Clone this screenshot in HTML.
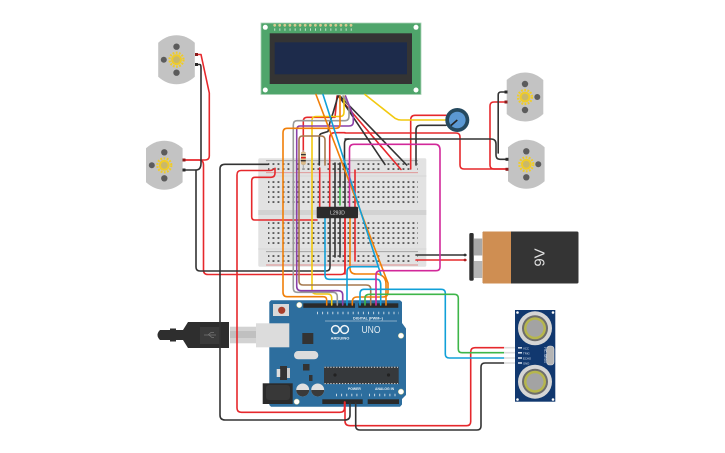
<!DOCTYPE html>
<html><head><meta charset="utf-8"><style>
html,body{margin:0;padding:0;background:#fff;width:725px;height:453px;overflow:hidden}
svg{display:block}
text{font-family:"Liberation Sans",sans-serif}
.w path{fill:none;stroke-width:1.6;stroke-linecap:round;stroke-linejoin:round}
</style></head><body>
<svg width="725" height="453" viewBox="0 0 725 453" xmlns="http://www.w3.org/2000/svg">
<defs>
<pattern id="h" x="266.4" y="0" width="5" height="5" patternUnits="userSpaceOnUse"><rect x="1.1" y="1.1" width="1.9" height="1.9" fill="#5a5a5a"/></pattern>
<pattern id="r" x="266.4" y="0" width="30" height="5" patternUnits="userSpaceOnUse"><rect x="1.1" y="1.1" width="1.9" height="1.9" fill="#5a5a5a"/><rect x="6.1" y="1.1" width="1.9" height="1.9" fill="#5a5a5a"/><rect x="11.1" y="1.1" width="1.9" height="1.9" fill="#5a5a5a"/><rect x="16.1" y="1.1" width="1.9" height="1.9" fill="#5a5a5a"/><rect x="21.1" y="1.1" width="1.9" height="1.9" fill="#5a5a5a"/></pattern>
<g id="motor"><path d="M-18.3 -17 Q-10 -24.5 0 -24.5 Q10 -24.5 18.3 -17 V17 Q10 24.5 0 24.5 Q-10 24.5 -18.3 17Z" fill="#c3c3c3"/><circle cx="0" cy="-13" r="3.2" fill="#5c5c5c"/><circle cx="0" cy="13" r="3.2" fill="#5c5c5c"/><circle cx="0" cy="0" r="5.4" fill="#f0cc28"/><circle cx="0" cy="0" r="7" fill="none" stroke="#f0cc28" stroke-width="2.2" stroke-dasharray="1.8 1.4"/><circle cx="0" cy="0" r="3.4" fill="#c9b86a"/></g>
</defs>

<!-- LCD -->
<rect x="261" y="23" width="160" height="71.5" fill="#4fa56b" stroke="#a9d3b6" stroke-width=".8"/>
<rect x="269.7" y="33.3" width="142.3" height="50.7" fill="#343434"/>
<rect x="274.7" y="42.3" width="132.3" height="32" fill="#1d2b4b"/>
<circle cx="265.3" cy="27.3" r="2.5" fill="#fff"/><circle cx="416" cy="27.3" r="2.5" fill="#fff"/><circle cx="265.3" cy="90" r="2.5" fill="#fff"/><circle cx="416" cy="90" r="2.5" fill="#fff"/>
<g fill="#d8c98f"><circle cx="274.7" cy="25.3" r="1.4"/><circle cx="279.7" cy="25.3" r="1.4"/><circle cx="284.8" cy="25.3" r="1.4"/><circle cx="289.9" cy="25.3" r="1.4"/><circle cx="295" cy="25.3" r="1.4"/><circle cx="300.1" cy="25.3" r="1.4"/><circle cx="305.2" cy="25.3" r="1.4"/><circle cx="310.3" cy="25.3" r="1.4"/><circle cx="315.4" cy="25.3" r="1.4"/><circle cx="320.5" cy="25.3" r="1.4"/><circle cx="325.6" cy="25.3" r="1.4"/><circle cx="330.7" cy="25.3" r="1.4"/><circle cx="335.8" cy="25.3" r="1.4"/><circle cx="340.9" cy="25.3" r="1.4"/><circle cx="346" cy="25.3" r="1.4"/><circle cx="351" cy="25.3" r="1.4"/></g>
<g stroke="#cfe6d6" stroke-width="2.4" stroke-dasharray=".9 4.2"><path d="M274.3 29.6H352"/></g>

<!-- Motors -->
<use href="#motor" x="176.5" y="59.7"/><circle cx="163.8" cy="59.7" r="3" fill="#5c5c5c"/>
<use href="#motor" x="164.3" y="165.3"/><circle cx="151.8" cy="165.3" r="3" fill="#5c5c5c"/>
<use href="#motor" x="525" y="97"/><circle cx="537.3" cy="97" r="3" fill="#5c5c5c"/>
<use href="#motor" x="526.3" y="164.3"/><circle cx="538.3" cy="164.3" r="3" fill="#5c5c5c"/>

<!-- Breadboard -->
<rect x="258.3" y="158.3" width="168" height="108.4" rx="1.5" fill="#e2e2e2"/>
<rect x="258.3" y="175" width="168" height="2" fill="#dcdcdc"/>
<rect x="258.3" y="248" width="168" height="2" fill="#dcdcdc"/>
<rect x="258.3" y="210" width="168" height="5" fill="#d2d2d2"/>
<path d="M266 160.7H418M266 251.7H418" stroke="#9a9a9a" stroke-width=".9"/>
<path d="M266 172.7H418M266 265H418" stroke="#df8d8d" stroke-width=".9"/>
<rect x="268" y="180" width="150" height="25" fill="url(#h)"/>
<rect x="268" y="220" width="150" height="25" fill="url(#h)" transform="translate(0 1)"/>
<rect x="268" y="160" width="150" height="10" fill="url(#r)" transform="translate(0 2)"/>
<rect x="268" y="250" width="150" height="10" fill="url(#r)" transform="translate(0 4)"/>

<!-- Arduino -->
<path d="M271 300.3H400L402 302V323L406 328.5V395L402 399V404.5L400 406.7H271L269.3 405V302Z" fill="#2d6e9e"/>
<rect x="303.3" y="303.3" width="51.7" height="4.5" fill="#2a2a2a"/>
<rect x="358.3" y="303.3" width="40" height="4.5" fill="#2a2a2a"/>
<rect x="322.3" y="399.3" width="40.4" height="4.7" fill="#2a2a2a"/>
<rect x="367.7" y="399.3" width="31.3" height="4.7" fill="#2a2a2a"/>
<rect x="273" y="304" width="16" height="12" fill="#d9d9d9"/><circle cx="281.7" cy="310.3" r="3.6" fill="#a83f2c"/>
<rect x="256" y="323.3" width="33.3" height="24" fill="#dcdcdc"/>
<rect x="230" y="326.7" width="26" height="16.6" fill="#d2d2d2"/><rect x="230" y="331" width="26" height="7" fill="#c0c0c0"/>
<path d="M183 330L188 322H229V348H188L183 340Z" fill="#2e2e2e"/>
<rect x="200" y="327" width="20" height="17" fill="#3b3b3b"/>
<path d="M160 330H170V328.5H176V330H183V340H176V341.5H170V340H160Q157.5 337.5 157.5 335Q157.5 332.5 160 330Z" fill="#2e2e2e"/>
<path d="M204 335H216M208 335L211 332.5H214M209 335L212 337.5H214" stroke="#777" stroke-width=".7" fill="none"/>
<rect x="302.3" y="333" width="11" height="11" fill="#333"/>
<rect x="294" y="351" width="24.3" height="8.3" rx="4.1" fill="#dcdcdc"/>
<rect x="303" y="364" width="6.5" height="6.5" fill="#333"/>
<rect x="280" y="366" width="7" height="14" fill="#333"/><rect x="276.7" y="369" width="3.5" height="8" fill="#ddd"/><rect x="287" y="368" width="3" height="10" fill="#ccc"/>
<rect x="309" y="375" width="3.5" height="6" fill="#333"/><rect x="262.7" y="383.3" width="30" height="20.7" fill="#2b2b2b"/><rect x="266" y="385" width="24" height="15" rx="3" fill="#383838"/>
<circle cx="302.7" cy="390" r="6.5" fill="#e0e0e0"/><path d="M296.2 390a6.5 6.5 0 0 0 13 0Z" fill="#3a3a3a"/>
<circle cx="317.7" cy="390" r="6.5" fill="#e0e0e0"/><path d="M311.2 390a6.5 6.5 0 0 0 13 0Z" fill="#3a3a3a"/>
<rect x="324" y="366.7" width="74.7" height="17.3" fill="#36393c"/>
<path d="M324.5 367.2H398M324.5 383.6H398" stroke="#ddd" stroke-width="1" stroke-dasharray="1.3 1.6"/>
<circle cx="335" cy="375" r="1.6" fill="#222"/><circle cx="388.5" cy="375" r="1.6" fill="#222"/>
<circle cx="299.3" cy="305" r="2.7" fill="#fff" stroke="#d8d48c" stroke-width=".5"/><circle cx="401" cy="335.7" r="2.7" fill="#fff" stroke="#d8d48c" stroke-width=".5"/><circle cx="401" cy="391.7" r="2.7" fill="#fff" stroke="#d8d48c" stroke-width=".5"/><circle cx="296.7" cy="401.7" r="2.7" fill="#fff" stroke="#d8d48c" stroke-width=".5"/>
<g fill="none" stroke="#f0f4f7" stroke-width="1.5"><circle cx="335.5" cy="329.5" r="3.9"/><circle cx="344.5" cy="329.5" r="3.9"/></g>
<text x="340" y="339.5" font-size="4" font-weight="bold" fill="#eef3f6" text-anchor="middle">ARDUINO</text>
<text x="361.5" y="333" font-size="10" fill="#dfe9f0" textLength="19" lengthAdjust="spacingAndGlyphs">UNO</text>
<text x="353" y="319.3" font-size="3.8" font-weight="bold" fill="#e6eef3">DIGITAL (PWM~)</text>
<path d="M325 321H397" stroke="#dfe9f0" stroke-width=".5"/>
<text x="348" y="390" font-size="3.4" font-weight="bold" fill="#e6eef3">POWER</text>
<text x="375" y="390" font-size="3.4" font-weight="bold" fill="#e6eef3">ANALOG IN</text>
<g stroke="#c7d8e4" stroke-width="2.4" stroke-dasharray="1 4.1"><path d="M317 313H399M336 395H362M369 395H399"/></g>

<!-- Wires -->
<g class="w">
<g stroke="#e6282c">
<path d="M197 54.5H201L209.3 93V156Q209.3 160 205 160H184"/>
<path d="M184 160H199Q203.5 160 203.5 165V270Q203.5 274.5 208 274.5H341Q345 274.5 345 270.5V218"/>
<path d="M505.7 102H494Q490 102 490 106V165Q490 169 494 169H506.5"/>
<path d="M345 133H456Q460 133 460 137V165Q460 169 464 169H506.5"/>
<path d="M329.7 170V138Q329.7 132.7 335 132.7H345"/>
<path d="M319.7 168V207"/><path d="M329.7 168V207"/><path d="M355 170V207"/><path d="M345 218V274"/><path d="M355 218V261"/>
<path d="M317 220H255Q251.7 220 251.7 216.7V181Q251.7 177.3 255 177.3H271Q275 177.3 275 173V168.3"/>
<path d="M273 169.5Q272 170.5 270 170.5H241Q237 170.5 237 175V408Q237 412.3 241.5 412.3H340Q344.5 412.3 344.5 408V402"/>
<path d="M345 402V421Q345 425.7 350 425.7H466.5Q470.7 425.7 470.7 421.5V352Q470.7 347.7 475 347.7H504"/>
<path d="M303.3 152V121.5Q303.3 117.3 307 117.3H335L337 96"/>
<path d="M338 96L401 169.5"/>
<path d="M410.7 169V120Q410.7 115.3 415 115.3H446"/>
</g>
<g stroke="#333">
<path d="M197 64.5H200Q201 64.5 201 68V163Q201 170 196 170H184"/>
<path d="M196 170V267Q196 271 200 271H326Q330 271 330 267V218"/>
<path d="M505.7 92H501Q498.2 92 498.2 95V153"/>
<path d="M345 139H491Q496 139 496 144V155Q496 159.3 500 159.3H506.5"/>
<path d="M344.5 170V143Q344.5 139 349 139"/>
<path d="M345 165V207M335 163V207M340 163V188"/>
<path d="M335 218V257M340 218V257"/>
<path d="M268.3 164.3H225Q220 164.3 220 169V415Q220 420 225 420H345Q350 420 350 415V403"/>
<path d="M355.7 403V426Q355.7 430 360 430H477Q481 430 481 426V367Q481 363 485 363H504"/>
<path d="M338 96L333 113L330 122L328 131.5L322 133.3Q319.3 134 319.3 137V165"/>
<path d="M339 96L385 164.5"/><path d="M340 96L406.7 165"/>
<path d="M416 165V130Q416 125.3 420.5 125.3H446"/>
<path d="M416 255H466"/>
</g>
<path d="M416 260H466" stroke="#e6282c"/>
<path d="M340 188V205" stroke="#3eb64a"/>
<path d="M365 94.5L395 118.3Q398 120 401 120H446" stroke="#f2c90f"/>
<path d="M331.7 305V298Q331.7 294 327.5 294H316.5Q312 294 312 290V120Q312 116.5 316 116.5H340Q344 116.5 344 112V96" stroke="#f2c90f"/>
<path d="M337.3 305V297Q337.3 292.3 333 292.3H297Q293.3 292.3 293.3 288V125Q293.3 120.7 297 120.7H345Q349 120.7 349 116V105L343 96" stroke="#9a9a9a"/>
<path d="M342.7 305V295Q342.7 290.7 338 290.7H301Q296.7 290.7 296.7 286V130Q296.7 126 300 126H349Q353.3 126 353.3 122V116L345.5 96" stroke="#8a3fa8"/>
<path d="M370.7 305V289Q370.7 285 366 285H303Q299 285 299 281V140Q299 136 302.5 136H321Q325 136 325 140V165" stroke="#a5794f"/>
<path d="M326.7 305V300Q326.7 296.7 323 296.7H287Q283 296.7 283 292V133Q283 128.3 287 128.3H336Q340 128.3 340 124V96" stroke="#f07f09"/>
<path d="M316 94.5L386 278L388 283V292Q388 297 383 297H357Q352.3 297 352.3 302V305" stroke="#f07f09"/>
<path d="M350 218V268Q350 274 356 274H378Q386 276 386 284V305" stroke="#f07f09"/>
<path d="M323 94.5L381 275" stroke="#11a0d8"/>
<path d="M347 305V272Q347 266.7 352 266.7H378" stroke="#11a0d8"/>
<path d="M325 218V275Q325 279.3 329 279.3H376.7Q380.7 279.3 380.7 285V305" stroke="#11a0d8"/>
<path d="M360 305V294Q360 289.3 364 289.3H441Q445.3 289.3 445.3 293V354Q445.3 358 449.3 358H504" stroke="#11a0d8"/>
<path d="M365 305V298Q365 294.3 370 294.3H454Q458.3 294.3 458.3 298V349Q458.3 352.7 462 352.7H504" stroke="#3eb64a"/>
<path d="M376 305V275Q376 270.7 381 270.7H436Q440 270.7 440 267V150Q440 144.3 435 144.3H354Q349.5 144.3 349.5 149V207" stroke="#d2289a"/>
</g>

<!-- Resistor -->
<path d="M303.3 150V170" stroke="#aaa" stroke-width="1"/>
<rect x="301" y="151.7" width="4.8" height="13" rx="1.5" fill="#d9b98a"/>
<rect x="301" y="154" width="4.8" height="1.2" fill="#333"/><rect x="301" y="157" width="4.8" height="1.4" fill="#d22"/><rect x="301" y="160" width="4.8" height="1.4" fill="#333"/>

<!-- L293D chip -->
<rect x="316.7" y="206.7" width="41.3" height="11.5" rx="1" fill="#2b2b2b"/>
<text x="337.5" y="214.3" font-size="5" fill="#ddd" text-anchor="middle">L293D</text>

<!-- Motor pins -->
<g fill="#8c1c1c"><rect x="195" y="53" width="3" height="3"/><rect x="182.5" y="158.5" width="3" height="3"/><rect x="504.5" y="100.5" width="3" height="3"/><rect x="505.5" y="167.8" width="3" height="3"/></g>
<g fill="#2a2a2a"><rect x="195" y="63" width="3" height="3"/><rect x="182.5" y="168.5" width="3" height="3"/><rect x="504.5" y="90.5" width="3" height="3"/><rect x="505.5" y="157.8" width="3" height="3"/></g>

<!-- Potentiometer -->
<circle cx="457.3" cy="120" r="12" fill="#25495f"/><circle cx="457.3" cy="120" r="8.3" fill="#5b98d3"/>
<path d="M457.3 120L451 125.5" stroke="#222" stroke-width="1.6"/>

<!-- Battery -->
<rect x="469.3" y="233" width="4.4" height="47.7" rx="1.5" fill="#2e2e2e"/>
<rect x="473.7" y="238.5" width="8.5" height="17" fill="#a8a8a8"/><rect x="473.7" y="261" width="8.5" height="17" fill="#b5b5b5"/>
<rect x="482.5" y="231.5" width="96" height="52" rx="1.5" fill="#343434"/>
<path d="M484 231.5H511V283.5H484Q482.5 283.5 482.5 282V233Q482.5 231.5 484 231.5Z" fill="#cf8e52"/>
<text x="0" y="0" transform="translate(540 257.5) rotate(-90)" font-size="15" fill="#e0e0e0" text-anchor="middle" dominant-baseline="central">9V</text>
<circle cx="465" cy="255" r="1.4" fill="#333"/><circle cx="465" cy="260" r="1.4" fill="#a22"/>

<!-- HC-SR04 -->
<rect x="504" y="346.9" width="11" height="1.6" fill="#dcdcdc"/><rect x="504" y="351.9" width="11" height="1.6" fill="#dcdcdc"/><rect x="504" y="357.2" width="11" height="1.6" fill="#dcdcdc"/><rect x="504" y="362.2" width="11" height="1.6" fill="#dcdcdc"/>
<rect x="515" y="310" width="40.3" height="91.7" fill="#11386f"/>
<circle cx="535" cy="328.3" r="17" fill="#d5d5d5"/><circle cx="535" cy="328.3" r="13" fill="#6d6d6d"/><circle cx="535" cy="328.3" r="11" fill="#b6b64d"/><circle cx="535" cy="328.3" r="8.5" fill="#a3a3a3"/>
<circle cx="535" cy="381.7" r="17" fill="#d5d5d5"/><circle cx="535" cy="381.7" r="13" fill="#6d6d6d"/><circle cx="535" cy="381.7" r="11" fill="#b6b64d"/><circle cx="535" cy="381.7" r="8.5" fill="#a3a3a3"/>
<rect x="546.7" y="346" width="7.3" height="19" rx="3" fill="#b5b5b5" stroke="#dcdcdc" stroke-width=".6"/>
<g fill="#fff"><circle cx="517.5" cy="312.5" r="1.3"/><circle cx="553" cy="312.5" r="1.3"/><circle cx="517.5" cy="399.5" r="1.3"/><circle cx="553" cy="399.5" r="1.3"/></g>
<g fill="#cfd8e6"><rect x="518" y="347" width="4" height="1.6"/><rect x="518" y="352" width="4" height="1.6"/><rect x="518" y="357.2" width="4" height="1.6"/><rect x="518" y="362.2" width="4" height="1.6"/></g>
<text x="523" y="349.5" font-size="2.8" fill="#dfe6f0">VCC</text><text x="523" y="354.5" font-size="2.8" fill="#dfe6f0">TRIG</text><text x="523" y="359.7" font-size="2.8" fill="#dfe6f0">ECHO</text><text x="523" y="364.7" font-size="2.8" fill="#dfe6f0">GND</text>
<text x="0" y="0" transform="translate(544 355) rotate(90)" font-size="3.6" fill="#dfe6f0" text-anchor="middle">HC-SR04</text>
</svg>
</body></html>
